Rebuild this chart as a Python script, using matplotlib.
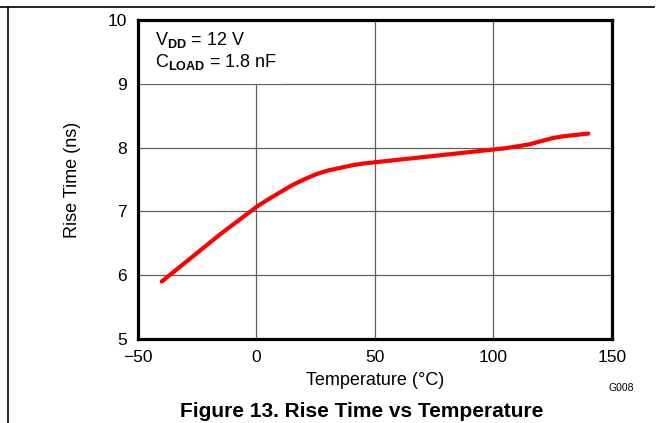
import matplotlib
matplotlib.use("Agg")
import matplotlib.pyplot as plt
from matplotlib.patches import Rectangle
from matplotlib.lines import Line2D

# rise time vs temperature
temp = [-40, -35, -30, -25, -20, -15, -10, -5, 0, 5, 10, 15, 20, 25, 30, 35, 40, 45, 50,
        60, 70, 80, 90, 100, 105, 110, 115, 120, 125, 130, 135, 140]
rise = [5.90, 6.05, 6.20, 6.35, 6.50, 6.65, 6.79, 6.93, 7.07, 7.19, 7.30, 7.41, 7.50, 7.58, 7.64, 7.68, 7.72, 7.75, 7.77,
        7.81, 7.85, 7.89, 7.93, 7.97, 7.99, 8.02, 8.05, 8.10, 8.15, 8.18, 8.20, 8.22]

xticks = [-50, 0, 50, 100, 150]
xtick_labels = ['\u221250', '0', '50', '100', '150']
yticks = [5, 6, 7, 8, 9, 10]

plt.rcParams['font.family'] = ['Liberation Sans', 'DejaVu Sans']
plt.rcParams['mathtext.fontset'] = 'custom'
plt.rcParams['mathtext.rm'] = 'Liberation Sans'
plt.rcParams['mathtext.bf'] = 'Liberation Sans:bold'

fig = plt.figure(figsize=(6.57, 4.23), dpi=100)
ax = fig.add_axes([0.210, 0.1986, 0.7215, 0.7541])

ax.plot(temp, rise, color='#ff0000', lw=3, solid_capstyle='round', zorder=4)

ax.set_xlim(-50, 150)
ax.set_ylim(5, 10)
ax.set_xticks(xticks)
ax.set_xticklabels(xtick_labels)
ax.set_yticks(yticks)
ax.tick_params(length=0, labelsize=12.5, pad=8)
ax.grid(True, color='#606060', lw=0.9, zorder=1)
ax.set_axisbelow(True)
for s in ax.spines.values():
    s.set_linewidth(2.3)
    s.set_zorder(5)

ax.set_xlabel('Temperature (\u00b0C)', fontsize=13, labelpad=5)
ax.set_ylabel('Rise Time (ns)', fontsize=13, labelpad=19)

# white box behind the conditions text
ax.add_patch(Rectangle((0, 0.80), 0.304, 0.2, transform=ax.transAxes,
                       facecolor='white', edgecolor='none', zorder=2))
ax.text(0.036, 0.97, r'V$_{\mathbf{DD}}$ = 12 V' + '\n' + r'C$_{\mathbf{LOAD}}$ = 1.8 nF',
        transform=ax.transAxes, fontsize=13, va='top', ha='left',
        linespacing=1.15, zorder=3)

fig.text(0.946, 0.083, 'G008', fontsize=7.5, ha='center', va='center')
fig.text(0.551, 0.027, 'Figure 13. Rise Time vs Temperature', fontsize=15,
         fontweight='bold', ha='center', va='center')

# page frame lines
fig.add_artist(Line2D([0, 0.995], [0.9835, 0.9835], transform=fig.transFigure, color='black', lw=1.2))
fig.add_artist(Line2D([0.012, 0.012], [0, 0.9835], transform=fig.transFigure, color='black', lw=1.2))

fig.savefig('out.png', dpi=100)
